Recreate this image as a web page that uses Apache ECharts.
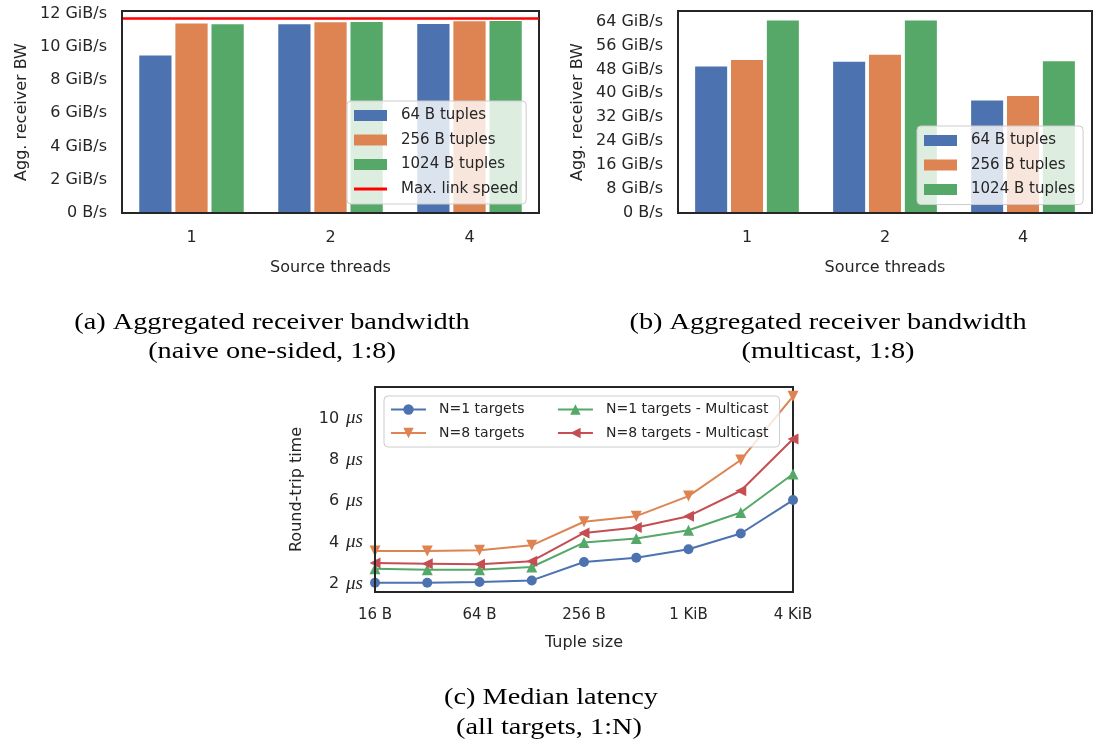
<!DOCTYPE html>
<html>
<head>
<meta charset="utf-8">
<script src="https://cdn.jsdelivr.net/npm/echarts@6/dist/echarts.min.js"></script>
<style>
  html, body { margin: 0; padding: 0; background: #ffffff; }
  #chart { width: 1094px; height: 745px; }
</style>
</head>
<body>
<div id="chart"></div>
<script>
// ---- data ----------------------------------------------------------------
const threadCategories = ['1', '2', '4'];
const tupleSeriesNames = ['64 B tuples', '256 B tuples', '1024 B tuples'];

// (a) naive one-sided, GiB/s per source-thread count
const naiveBW64 = [9.48, 11.35, 11.37];
const naiveBW256 = [11.40, 11.47, 11.53];
const naiveBW1024 = [11.35, 11.49, 11.55];
const maxLinkSpeed = 11.71;

// (b) multicast, GiB/s per source-thread count
const multicastBW64 = [48.96, 50.5, 37.6];
const multicastBW256 = [51.1, 52.9, 39.1];
const multicastBW1024 = [64.3, 64.3, 50.75];

// (c) median round-trip latency in microseconds
const tupleSizes = [16, 32, 64, 128, 256, 512, 1024, 2048, 4096];
const latN1 = [2.05, 2.05, 2.08, 2.16, 3.05, 3.26, 3.67, 4.43, 6.05];
const latN8 = [3.59, 3.59, 3.62, 3.86, 5.00, 5.27, 6.24, 7.99, 11.07];
const latN1Multicast = [2.73, 2.68, 2.68, 2.81, 3.99, 4.19, 4.59, 5.45, 7.31];
const latN8Multicast = [3.00, 2.97, 2.94, 3.09, 4.46, 4.72, 5.27, 6.50, 9.00];

// tick labels
const bwTicksA = [0, 2, 4, 6, 8, 10, 12];
const bwTicksB = [0, 8, 16, 24, 32, 40, 48, 56, 64];
const sizeTickValues = [16, 64, 256, 1024, 4096];
const sizeTickLabels = ['16 B', '64 B', '256 B', '1 KiB', '4 KiB'];
const latencyTicks = [2, 4, 6, 8, 10];

// ---- styling ---------------------------------------------------------------
const INK = '#262626';
const SANS = 'DejaVu Sans';
const SERIF = 'Liberation Serif';
const COLORS = { blue: '#4C72B0', orange: '#DD8452', green: '#55A868', red: '#C44E52' };
const barColors = [COLORS.blue, COLORS.orange, COLORS.green];

function findTick(ticks, v) {
  for (const t of ticks) if (Math.abs(t - v) < 1e-6) return t;
  return null;
}
function bwFormatter(ticks) {
  return function (v) {
    const t = findTick(ticks, v);
    if (t === null) return '';
    return t === 0 ? '0 B/s' : t + ' GiB/s';
  };
}

function bandwidthGrid(idx) {
  return idx === 0
    ? { left: 122, top: 11, width: 417, height: 202 }
    : { left: 678, top: 11, width: 414, height: 202 };
}

function gridFrame(g) {
  return Object.assign({ show: true, borderColor: INK, borderWidth: 2, backgroundColor: 'transparent', containLabel: false }, g);
}

function catXAxis(gridIndex) {
  return {
    type: 'category', gridIndex, data: threadCategories,
    axisLine: { show: true, lineStyle: { color: INK, width: 2 } },
    axisTick: { show: false },
    axisLabel: { color: INK, fontFamily: SANS, fontSize: 16, margin: 17 },
    splitLine: { show: false },
    name: 'Source threads', nameLocation: 'middle', nameGap: 47,
    nameTextStyle: { color: INK, fontFamily: SANS, fontSize: 16 },
    z: 10
  };
}

function bwYAxis(gridIndex, max, interval, ticks) {
  return {
    type: 'value', gridIndex, min: 0, max, interval,
    axisLine: { show: true, lineStyle: { color: INK, width: 2 } },
    axisTick: { show: false },
    splitLine: { show: false },
    axisLabel: { color: INK, fontFamily: SANS, fontSize: 16, margin: 15, formatter: bwFormatter(ticks) },
    name: 'Agg. receiver BW', nameLocation: 'middle', nameGap: 92,
    nameTextStyle: { color: INK, fontFamily: SANS, fontSize: 16 },
    z: 10
  };
}

function barSeries(name, values, colorIdx, axisIdx) {
  return {
    type: 'bar', name, data: values,
    xAxisIndex: axisIdx, yAxisIndex: axisIdx,
    barWidth: '23.2%', barGap: '12%',
    itemStyle: { color: barColors[colorIdx] },
    emphasis: { disabled: true }
  };
}

const barLegendBase = {
  orient: 'vertical',
  itemWidth: 33, itemHeight: 11, itemGap: 9.5,
  icon: 'rect',
  backgroundColor: 'rgba(255,255,255,0.8)',
  borderColor: '#cccccc', borderWidth: 1, borderRadius: 4,
  padding: [7, 8, 7.5, 7],
  selectedMode: false,
  textStyle: { color: INK, fontFamily: SANS, fontSize: 15, lineHeight: 15, padding: [0, 0, 0, 9] },
  z: 20
};

function lineSeries(name, values, color, symbol, rotate, size) {
  return {
    type: 'line', name,
    data: tupleSizes.map((s, i) => [s, values[i]]),
    xAxisIndex: 2, yAxisIndex: 2,
    color,
    lineStyle: { color, width: 2 },
    itemStyle: { color },
    symbol, symbolSize: size, symbolRotate: rotate,
    showAllSymbol: true,
    clip: true,
    emphasis: { disabled: true }
  };
}

const captionFont = '24px "Liberation Serif"';
function caption(text, x, y) {
  return {
    type: 'text', x, y, scaleX: 1.18,
    style: { text, font: captionFont, fill: '#000', textAlign: 'center', textVerticalAlign: 'middle' }
  };
}

const option = {
  backgroundColor: '#ffffff',
  animation: false,
  grid: [
    gridFrame(bandwidthGrid(0)),
    gridFrame(bandwidthGrid(1)),
    gridFrame({ left: 375, top: 387, width: 418, height: 205 })
  ],
  xAxis: [
    catXAxis(0),
    catXAxis(1),
    {
      type: 'log', logBase: 2, gridIndex: 2, min: 16, max: 4096,
      axisLine: { show: true, lineStyle: { color: INK, width: 2 } },
      axisTick: { show: false },
      splitLine: { show: false },
      axisLabel: {
        color: INK, fontFamily: SANS, fontSize: 15, margin: 16,
        formatter: function (v) {
          const i = sizeTickValues.findIndex(t => Math.abs(t - v) < 1e-6);
          return i < 0 ? '' : sizeTickLabels[i];
        }
      },
      name: 'Tuple size', nameLocation: 'middle', nameGap: 43,
      nameTextStyle: { color: INK, fontFamily: SANS, fontSize: 16 },
      z: 10
    }
  ],
  yAxis: [
    bwYAxis(0, 12.15, 2, bwTicksA),
    bwYAxis(1, 67.5, 8, bwTicksB),
    {
      type: 'value', gridIndex: 2, min: 1.6, max: 11.52, interval: 0.4,
      axisLine: { show: true, lineStyle: { color: INK, width: 2 } },
      axisTick: { show: false },
      splitLine: { show: false },
      axisLabel: {
        color: INK, margin: 12,
        formatter: function (v) {
          const t = findTick(latencyTicks, v);
          return t === null ? '' : '{n|' + t + '}{s| }{u|μs}';
        },
        rich: {
          n: { fontFamily: SANS, fontSize: 16, color: INK },
          s: { fontFamily: SANS, fontSize: 16, width: 7 },
          u: { fontFamily: SERIF, fontStyle: 'italic', fontSize: 19, color: INK }
        }
      },
      name: 'Round-trip time', nameLocation: 'middle', nameGap: 70,
      nameTextStyle: { color: INK, fontFamily: SANS, fontSize: 16 },
      z: 10
    }
  ],
  legend: [
    Object.assign({}, barLegendBase, {
      left: 347, top: 101,
      data: [
        { name: '64 B tuples', icon: 'rect' },
        { name: '256 B tuples', icon: 'rect' },
        { name: '1024 B tuples', icon: 'rect' },
        { name: 'Max. link speed', icon: 'path://M0,4 L33,4 L33,7 L0,7 Z', itemStyle: { color: '#ff0000' } }
      ]
    }),
    Object.assign({}, barLegendBase, {
      left: 917, top: 126,
      data: tupleSeriesNames.map(n => ({ name: n, icon: 'rect' }))
    }),
    {
      orient: 'horizontal',
      left: 384, top: 396, width: 400,
      itemWidth: 35, itemHeight: 13, itemGap: 9.5,
      backgroundColor: 'rgba(255,255,255,0.8)',
      borderColor: '#cccccc', borderWidth: 1, borderRadius: 4,
      padding: [6.5, 11, 7, 6],
      selectedMode: false,
      textStyle: { color: INK, fontFamily: SANS, fontSize: 14, lineHeight: 14, padding: [0, 0, 0, 8] },
      data: [
        { name: 'N=1 targets', textStyle: { padding: [0, 23, 0, 8] } },
        { name: 'N=1 targets - Multicast' },
        { name: 'N=8 targets', textStyle: { padding: [0, 23, 0, 8] } },
        { name: 'N=8 targets - Multicast' }
      ],
      z: 20
    }
  ],
  series: [
    barSeries(tupleSeriesNames[0], naiveBW64, 0, 0),
    barSeries(tupleSeriesNames[1], naiveBW256, 1, 0),
    barSeries(tupleSeriesNames[2], naiveBW1024, 2, 0),
    {
      type: 'line', name: 'Max. link speed', data: [],
      xAxisIndex: 0, yAxisIndex: 0,
      color: '#ff0000', symbol: 'none',
      lineStyle: { color: '#ff0000', width: 2.5 },
      markLine: {
        silent: true, symbol: 'none', label: { show: false },
        lineStyle: { color: '#ff0000', width: 2.5, type: 'solid' },
        data: [{ yAxis: maxLinkSpeed }]
      },
      z: 5
    },
    barSeries(tupleSeriesNames[0], multicastBW64, 0, 1),
    barSeries(tupleSeriesNames[1], multicastBW256, 1, 1),
    barSeries(tupleSeriesNames[2], multicastBW1024, 2, 1),
    lineSeries('N=1 targets', latN1, COLORS.blue, 'circle', 0, 10),
    lineSeries('N=8 targets', latN8, COLORS.orange, 'triangle', 180, 11),
    lineSeries('N=1 targets - Multicast', latN1Multicast, COLORS.green, 'triangle', 0, 11),
    lineSeries('N=8 targets - Multicast', latN8Multicast, COLORS.red, 'triangle', 90, 11)
  ],
  graphic: [
    caption('(a) Aggregated receiver bandwidth', 272, 323),
    caption('(naive one-sided, 1:8)', 272, 352),
    caption('(b) Aggregated receiver bandwidth', 828, 323),
    caption('(multicast, 1:8)', 828, 352),
    caption('(c) Median latency', 551, 698),
    caption('(all targets, 1:N)', 549, 728)
  ]
};

const chart = echarts.init(document.getElementById('chart'), null, { renderer: 'canvas' });
chart.setOption(option);
</script>
</body>
</html>
